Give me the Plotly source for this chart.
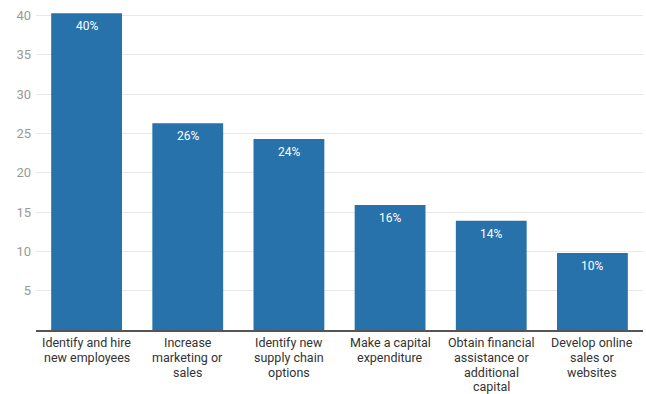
import plotly.graph_objects as go

# Share of businesses planning each action (%)
categories = [
    "Identify and hire<br>new employees",
    "Increase<br>marketing or<br>sales",
    "Identify new<br>supply chain<br>options",
    "Make a capital<br>expenditure",
    "Obtain financial<br>assistance or<br>additional<br>capital",
    "Develop online<br>sales or<br>websites",
]
values = [40.3, 26.3, 24.3, 15.9, 13.9, 9.8]
y_ticks = [5, 10, 15, 20, 25, 30, 35, 40]

BAR_COLOR = "#2872ab"
LINE_STEP = 14.7  # px between wrapped category-label lines

fig = go.Figure(
    go.Bar(
        x=categories,
        y=values,
        marker=dict(color=BAR_COLOR, line=dict(width=0)),
        hoverinfo="skip",
    )
)

annotations = []
# value labels just inside the top of each bar
for cat, val in zip(categories, values):
    annotations.append(dict(
        x=cat, y=val, xref="x", yref="y",
        text=f"{val:.0f}%", showarrow=False,
        yanchor="middle", yshift=-13,
        font=dict(family="Roboto", size=12, color="white"),
    ))
# wrapped category labels below the axis, with tight line spacing
for cat in categories:
    for i, line in enumerate(cat.split("<br>")):
        annotations.append(dict(
            x=cat, y=0, xref="x", yref="paper",
            text=line, showarrow=False,
            yanchor="middle", yshift=-(12.7 + LINE_STEP * i),
            font=dict(family="Roboto", size=12.5, color="#333333"),
        ))

fig.update_layout(
    width=646,
    height=394,
    margin=dict(l=36, r=3, t=5, b=64),
    plot_bgcolor="white",
    paper_bgcolor="white",
    font=dict(family="Roboto", size=13, color="#333333"),
    bargap=0.3,
    showlegend=False,
    annotations=annotations,
)

fig.update_xaxes(
    automargin=False,
    showgrid=False,
    showline=True,
    linecolor="#555555",
    linewidth=1.5,
    ticks="",
    showticklabels=False,
)

fig.update_yaxes(
    automargin=False,
    range=[0, 41.35],
    tickvals=y_ticks,
    showgrid=True,
    gridcolor="#e8e8e8",
    gridwidth=1,
    zeroline=False,
    showline=False,
    ticks="",
    ticklabelstandoff=4,
    tickfont=dict(size=13, color="#999999"),
)

fig.write_html("out.html")
